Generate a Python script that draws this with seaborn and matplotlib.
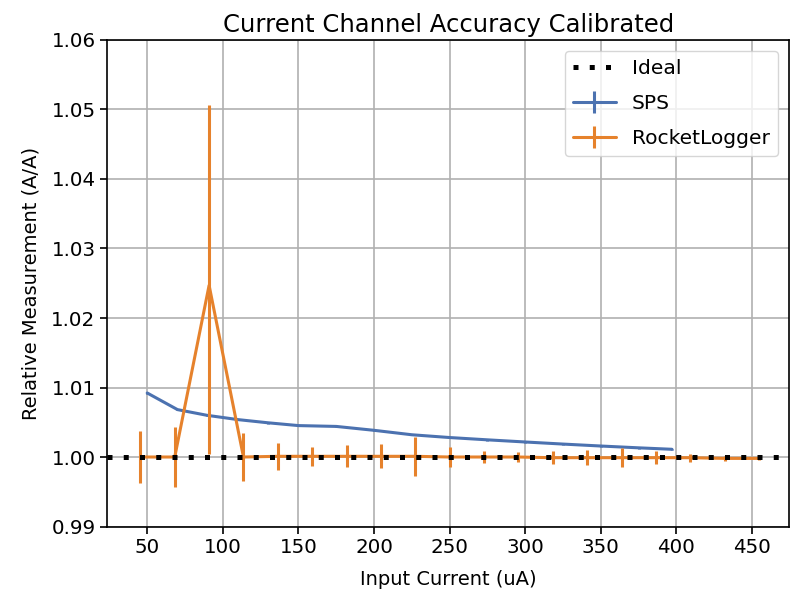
import numpy as np
import pandas as pd
import seaborn as sns
import matplotlib
matplotlib.use("Agg")
import matplotlib.pyplot as plt
from matplotlib.lines import Line2D
from matplotlib.legend_handler import HandlerTuple

# ---- data ----
sps_x = [50, 70, 89.5, 110, 130, 150, 175, 200, 225, 250, 275, 300, 325, 350, 375, 397]
sps_y = [1.00921, 1.00682, 1.00600, 1.00538, 1.00492, 1.00452, 1.00440, 1.00384,
         1.00320, 1.00280, 1.00247, 1.00216, 1.00186, 1.00158, 1.00132, 1.00111]
sps_err = [0.0001] * 16

rl_x = [45.45, 68.18, 90.91, 113.64, 136.36, 159.09, 181.82, 204.55, 227.27, 250.0,
        272.73, 295.45, 318.18, 340.91, 363.64, 386.36, 409.09, 431.82, 454.55]
rl_y = [1.0000, 1.0000, 1.0247, 1.0000, 1.0001, 1.0001, 1.0001, 1.0001, 1.0001, 1.0000,
        1.0000, 1.0000, 0.9999, 0.9999, 0.9999, 0.9999, 0.9999, 0.9998, 0.9998]
rl_err_low = [0.0037, 0.0043, 0.0243, 0.0035, 0.0019, 0.0014, 0.0016, 0.0017, 0.0028, 0.0014,
              0.0009, 0.0007, 0.0009, 0.0011, 0.0014, 0.0009, 0.0006, 0.0004, 0.0002]
rl_err_high = [0.0037, 0.0043, 0.0259, 0.0035, 0.0019, 0.0014, 0.0016, 0.0017, 0.0028, 0.0014,
               0.0009, 0.0007, 0.0009, 0.0011, 0.0014, 0.0009, 0.0006, 0.0004, 0.0002]

ideal_value = 1.0

title = "Current Channel Accuracy Calibrated"
xlabel = "Input Current (uA)"
ylabel = "Relative Measurement (A/A)"
xticks = [50, 100, 150, 200, 250, 300, 350, 400, 450]
yticks = [0.99, 1.00, 1.01, 1.02, 1.03, 1.04, 1.05, 1.06]
legend_labels = ["Ideal", "SPS", "RocketLogger"]

BLUE = "#4C72B0"
ORANGE = "#E6822C"

sns.set_theme(style="ticks")
plt.rcParams['font.family'] = ['DejaVu Sans']
plt.rcParams['text.color'] = 'black'
plt.rcParams['axes.labelcolor'] = 'black'

fig = plt.figure(figsize=(7.92, 5.96), dpi=100)
ax = fig.add_axes([0.1355, 0.1166, 0.8607, 0.8163])

sps_df = pd.DataFrame({"x": sps_x, "y": sps_y})
rl_df = pd.DataFrame({"x": rl_x, "y": rl_y})

ax.axhline(ideal_value, color="black", lw=3.6, ls=(0, (1, 2.25)), zorder=4)

sns.lineplot(data=sps_df, x="x", y="y", ax=ax, color=BLUE, lw=2.2, legend=False, zorder=3)
ax.errorbar(sps_x, sps_y, yerr=sps_err, fmt="none", ecolor=BLUE, elinewidth=2.2, zorder=3)

sns.lineplot(data=rl_df, x="x", y="y", ax=ax, color=ORANGE, lw=2.2, legend=False, zorder=3)
ax.errorbar(rl_x, rl_y, yerr=[rl_err_low, rl_err_high], fmt="none", ecolor=ORANGE,
            elinewidth=2.2, zorder=3)

ax.set_xlim(23.6, 474.4)
ax.set_ylim(0.99, 1.06)
ax.set_xticks(xticks)
ax.set_yticks(yticks)
ax.set_xticklabels([str(t) for t in xticks])
ax.set_yticklabels([f"{t:.2f}" for t in yticks])
ax.tick_params(labelsize=14.3, length=5, width=1.2, colors="black")
ax.grid(True, color="#b0b0b0", lw=1.2)
for s in ax.spines.values():
    s.set_color("black")
    s.set_linewidth(1.2)

ax.set_title(title, fontsize=17.5, pad=6, color="black")
ax.set_xlabel(xlabel, fontsize=14, labelpad=9)
ax.set_ylabel(ylabel, fontsize=14, labelpad=8)

h_ideal = Line2D([], [], color="black", lw=3.6, ls=(0, (1, 2.25)))
h_sps = (Line2D([], [], color=BLUE, lw=2.2),
         Line2D([], [], color=BLUE, marker="|", ms=16, mew=2.2, ls="none"))
h_rl = (Line2D([], [], color=ORANGE, lw=2.2),
        Line2D([], [], color=ORANGE, marker="|", ms=16, mew=2.2, ls="none"))
ax.legend([h_ideal, h_sps, h_rl], legend_labels,
          handler_map={tuple: HandlerTuple(ndivide=1, pad=0)},
          loc="upper right", fontsize=14.6, frameon=True, framealpha=0.8,
          edgecolor="#cccccc", fancybox=True, labelspacing=0.78,
          handlelength=2.1, borderaxespad=0.55)

fig.savefig("out.png", dpi=100)
